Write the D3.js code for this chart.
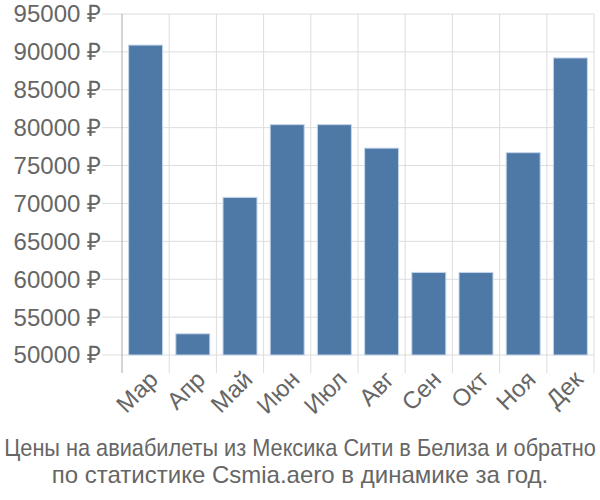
<!DOCTYPE html>
<html>
<head>
<meta charset="utf-8">
<script src="https://cdn.jsdelivr.net/npm/d3@7"></script>
<style>
  body { margin: 0; background: #fff; }
  text { font-family: "Liberation Sans", Arial, sans-serif; fill: #666; }
</style>
</head>
<body>
<div id="chart"></div>
<script>
// data
const months = ["Мар", "Апр", "Май", "Июн", "Июл", "Авг", "Сен", "Окт", "Ноя", "Дек"];
const prices = [90900, 52800, 70800, 80400, 80400, 77300, 60900, 60900, 76700, 89200];
const yTicks = [50000, 55000, 60000, 65000, 70000, 75000, 80000, 85000, 90000, 95000];
const titleLines = [
    "Цены на авиабилеты из Мексика Сити в Белиза и обратно",
    "по статистике Csmia.aero в динамике за год."
];

const W = 600, H = 500;
const margin = {top: 14, right: 6, bottom: 145, left: 122};
const width = W - margin.left - margin.right;
const height = H - margin.top - margin.bottom;

const svg = d3.select("#chart").append("svg")
    .attr("width", W)
    .attr("height", H);

const g = svg.append("g")
    .attr("transform", `translate(${margin.left},${margin.top})`);

const x = d3.scaleBand().domain(months).range([0, width]).paddingInner(0.28).paddingOuter(0.14);
const y = d3.scaleLinear().domain([50000, 95000]).range([height, 0]);

// horizontal grid lines + tick marks on the left
g.selectAll("line.hgrid")
    .data(yTicks)
    .join("line")
    .attr("class", "hgrid")
    .attr("x1", -20)
    .attr("x2", width)
    .attr("y1", d => y(d))
    .attr("y2", d => y(d))
    .attr("stroke", "#ddd")
    .attr("stroke-width", 1);

// vertical grid lines at band boundaries, reaching past the axis
const step = width / months.length;
const bounds = d3.range(months.length + 1).map(i => i * step);
g.selectAll("line.vgrid")
    .data(bounds)
    .join("line")
    .attr("class", "vgrid")
    .attr("x1", d => d)
    .attr("x2", d => d)
    .attr("y1", 0)
    .attr("y2", height + 18)
    .attr("stroke", (d, i) => i === 0 ? "#aaa" : "#ddd")
    .attr("stroke-width", 1);

// y labels
g.selectAll("text.ylab")
    .data(yTicks)
    .join("text")
    .attr("class", "ylab")
    .attr("x", -21)
    .attr("y", d => y(d))
    .attr("dy", "0.35em")
    .attr("text-anchor", "end")
    .style("font-size", "24px")
    .text(d => d + " ₽");

// bars
g.selectAll("rect.bar")
    .data(prices)
    .join("rect")
    .attr("class", "bar")
    .attr("x", (d, i) => x(months[i]))
    .attr("y", d => y(d))
    .attr("width", x.bandwidth())
    .attr("height", d => height - y(d))
    .attr("fill", "#4e79a7")
    .attr("stroke", "#c5d6ea")
    .attr("stroke-width", 1);

// x labels rotated
g.selectAll("text.xlab")
    .data(months)
    .join("text")
    .attr("class", "xlab")
    .attr("transform", d => `translate(${x(d) + x.bandwidth() / 2 + 8},${height + 20}) rotate(-45)`)
    .attr("text-anchor", "end")
    .attr("dy", "0.35em")
    .style("font-size", "24px")
    .text(d => d);

// title; the first line is narrowed horizontally so it fits the width
const maxTitle = 592;
svg.selectAll("text.title")
    .data(titleLines)
    .join("text")
    .attr("class", "title")
    .attr("text-anchor", "middle")
    .style("font-size", "24px")
    .text(d => d)
    .attr("transform", function(d, i) {
        const w = this.getComputedTextLength();
        const k = w > maxTitle ? maxTitle / w : 1;
        return `translate(${W / 2},${456 + i * 27}) scale(${k},1)`;
    });
</script>
</body>
</html>
